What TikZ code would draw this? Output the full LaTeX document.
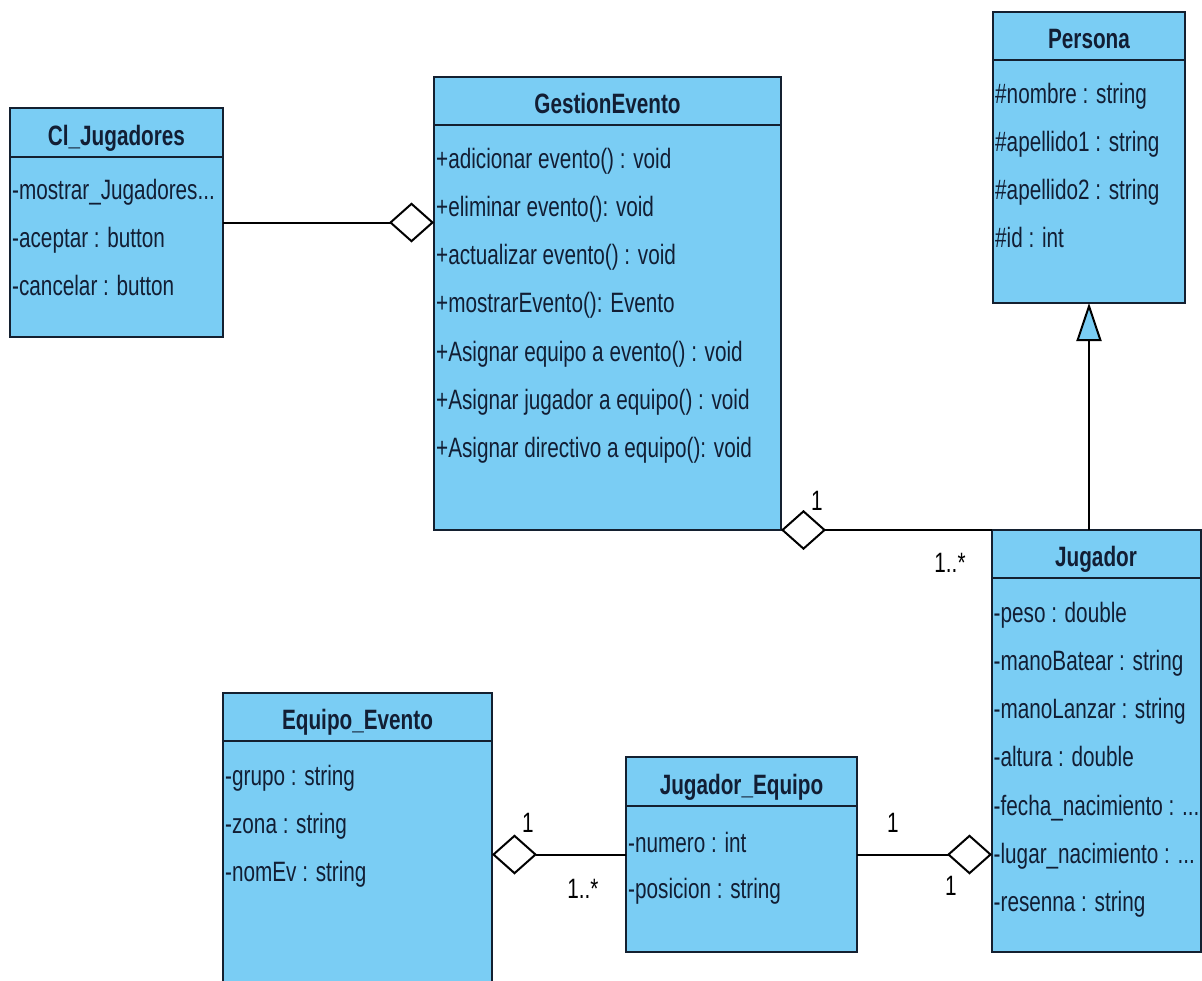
\documentclass[tikz,border=0pt]{standalone}
\usepackage{fontspec}
\setmainfont[FakeStretch=0.74]{Liberation Sans}
\usetikzlibrary{arrows.meta, positioning}
\definecolor{clsfill}{RGB}{122,205,244}
\definecolor{clsline}{RGB}{20,32,48}
\definecolor{clstext}{RGB}{18,30,52}
\newcommand{\dotsmore}{...}
\tikzset{
cls/.style={draw=clsline, fill=clsfill, line width=2pt, anchor=north west, inner sep=0pt, outer sep=0pt},
hdr/.style={draw=clsline, line width=2pt},
ttl/.style={font=\fontsize{28}{30}\selectfont\bfseries, text=clstext, anchor=base, inner sep=0pt},
attr/.style={font=\fontsize{28}{30}\selectfont, text=clstext, anchor=base west, inner sep=0pt},
mult/.style={font=\fontsize{28}{30}\selectfont, text=black, anchor=base, inner sep=0pt},
aggr/.style={line width=2pt, -{Diamond[length=45pt, width=40pt, fill=white]}},
gen/.style={line width=2pt, -{Triangle[length=38pt, width=25pt, fill=clsfill]}},
}

\begin{document}
\begin{tikzpicture}[x=1pt, y=-1pt]
    \useasboundingbox (0,0) rectangle (1202,980);

    % Cl_Jugadores
    \node (cl) [cls, minimum width=213pt, minimum height=229pt] at (10,108) {};
    \draw[hdr] ([yshift=-49pt]cl.north west) -- ([yshift=-49pt]cl.north east);
    \node (cl-t) [ttl] at (116.5,145) {Cl\_Jugadores};
    \foreach \txt [count=\i] in {{-mostrar\_Jugadores\dotsmore}, {-aceptar : button}, {-cancelar : button}}
        \node (cl-\i) [attr] at (12,{199+48.3*(\i-1)}) {\txt};

    % GestionEvento
    \node (gst) [cls, minimum width=347pt, minimum height=453pt] at (434,77) {};
    \draw[hdr] ([yshift=-48pt]gst.north west) -- ([yshift=-48pt]gst.north east);
    \node (gst-t) [ttl] at (607.5,113) {GestionEvento};
    \foreach \txt [count=\i] in {{+adicionar evento() : void}, {+eliminar evento(): void},
        {+actualizar evento() : void}, {+mostrarEvento(): Evento}, {+Asignar equipo a evento() : void},
        {+Asignar jugador a equipo() : void}, {+Asignar directivo a equipo(): void}}
        \node (gst-\i) [attr] at (436,{168+48.3*(\i-1)}) {\txt};

    % Persona
    \node (per) [cls, minimum width=192pt, minimum height=291pt] at (993,12) {};
    \draw[hdr] ([yshift=-48pt]per.north west) -- ([yshift=-48pt]per.north east);
    \node (per-t) [ttl] at (1089,48) {Persona};
    \foreach \txt [count=\i] in {{\#nombre : string}, {\#apellido1 : string}, {\#apellido2 : string}, {\#id : int}}
        \node (per-\i) [attr] at (995,{103+48.3*(\i-1)}) {\txt};

    % Jugador
    \node (jug) [cls, minimum width=209pt, minimum height=422pt] at (992,530) {};
    \draw[hdr] ([yshift=-48pt]jug.north west) -- ([yshift=-48pt]jug.north east);
    \node (jug-t) [ttl] at (1096,566) {Jugador};
    \foreach \txt [count=\i] in {{-peso : double}, {-manoBatear : string}, {-manoLanzar : string},
        {-altura : double}, {-fecha\_nacimiento : \dotsmore}, {-lugar\_nacimiento : \dotsmore}, {-resenna : string}}
        \node (jug-\i) [attr] at (993.5,{622+48.3*(\i-1)}) {\txt};

    % Equipo_Evento
    \node (eqe) [cls, minimum width=269pt, minimum height=300pt] at (223,693) {};
    \draw[hdr] ([yshift=-48pt]eqe.north west) -- ([yshift=-48pt]eqe.north east);
    \node (eqe-t) [ttl] at (357.5,729) {Equipo\_Evento};
    \foreach \txt [count=\i] in {{-grupo : string}, {-zona : string}, {-nomEv : string}}
        \node (eqe-\i) [attr] at (225,{785+48.3*(\i-1)}) {\txt};

    % Jugador_Equipo
    \node (jeq) [cls, minimum width=231pt, minimum height=195pt] at (626,757) {};
    \draw[hdr] ([yshift=-49pt]jeq.north west) -- ([yshift=-49pt]jeq.north east);
    \node (jeq-t) [ttl] at (741.5,794) {Jugador\_Equipo};
    \foreach \txt [count=\i] in {{-numero : int}, {-posicion : string}}
        \node (jeq-\i) [attr] at (628,{852+46*(\i-1)}) {\txt};

    % relaciones
    \draw[aggr] (cl.east) -- (cl.east -| gst.west);
    \draw[aggr] (jug.north west) -- (gst.south east);
    \draw[gen] (per.south |- jug.north) -- (per.south);
    \draw[aggr] (jeq.west) -- (jeq.west -| eqe.east);
    \draw[aggr] (jeq.east) -- (jeq.east -| jug.west);

    % multiplicidades
    \node (m1) [mult] at (817,510) {1};
    \node (m2) [mult] at (950,572) {1..*};
    \node (m3) [mult] at (528,832) {1};
    \node (m4) [mult] at (583,898) {1..*};
    \node (m5) [mult] at (893,832) {1};
    \node (m6) [mult] at (951,895) {1};
\end{tikzpicture}
\end{document}
